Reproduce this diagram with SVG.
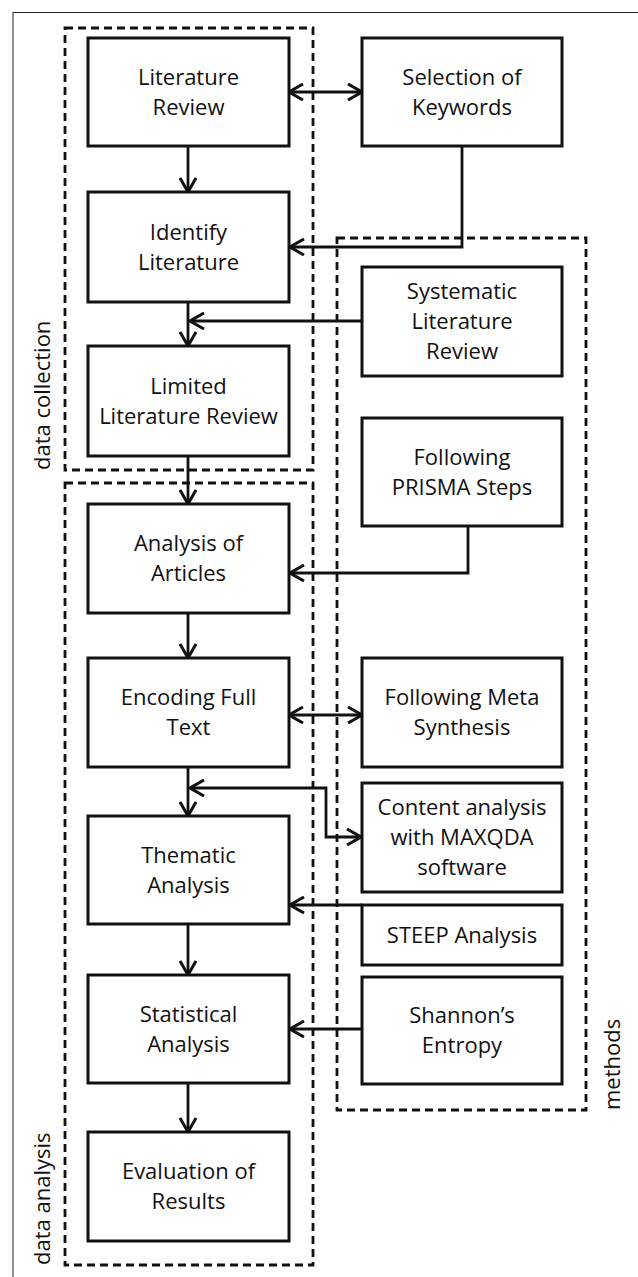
<svg xmlns="http://www.w3.org/2000/svg" width="638" height="1277" viewBox="0 0 638 1277">
<defs>
<style>
.box{fill:#fff;stroke:#111;stroke-width:3}
.grp{fill:none;stroke:#111;stroke-width:2.8;stroke-dasharray:8 5}
.t{font-family:"Open Sans","Liberation Sans",sans-serif;font-size:22px;fill:#111;text-anchor:middle}
.lbl{font-family:"Open Sans","Liberation Sans",sans-serif;font-size:22px;fill:#111;text-anchor:start}
.c{fill:none;stroke:#111;stroke-width:2.8}
</style>
<marker id="ah" viewBox="0 0 16 18" refX="15" refY="9" markerWidth="16" markerHeight="18" markerUnits="userSpaceOnUse" orient="auto-start-reverse">
<path d="M1,1 L15,9 L1,17" fill="none" stroke="#111" stroke-width="3"/>
</marker>
</defs>
<rect x="0" y="0" width="638" height="1277" fill="#fff"/>
<rect x="13" y="12.5" width="700" height="1300" fill="none" stroke="#222" stroke-width="1"/>

<g id="groups">
<rect class="grp" x="65" y="28" width="248" height="442"/>
<rect class="grp" x="65" y="483" width="248" height="782"/>
<rect class="grp" x="337" y="238" width="249" height="872"/>
<text class="lbl" transform="translate(50,470) rotate(-90)">data collection</text>
<text class="lbl" transform="translate(50,1265) rotate(-90)">data analysis</text>
<text class="lbl" transform="translate(620,1110) rotate(-90)">methods</text>
</g>

<g id="connectors">
<line class="c" x1="289" y1="92" x2="362" y2="92" marker-start="url(#ah)" marker-end="url(#ah)"/>
<line class="c" x1="188" y1="146" x2="188" y2="192" marker-end="url(#ah)"/>
<polyline class="c" points="462,146 462,247 290,247" marker-end="url(#ah)"/>
<line class="c" x1="188" y1="302" x2="188" y2="346" marker-end="url(#ah)"/>
<line class="c" x1="362" y1="321" x2="190" y2="321" marker-end="url(#ah)"/>
<line class="c" x1="188" y1="456" x2="188" y2="504" marker-end="url(#ah)"/>
<polyline class="c" points="468,526 468,573 290,573" marker-end="url(#ah)"/>
<line class="c" x1="188" y1="613" x2="188" y2="658" marker-end="url(#ah)"/>
<line class="c" x1="289" y1="715" x2="362" y2="715" marker-start="url(#ah)" marker-end="url(#ah)"/>
<line class="c" x1="188" y1="767" x2="188" y2="816" marker-end="url(#ah)"/>
<polyline class="c" points="190,788 326,788 326,837 361,837" marker-start="url(#ah)" marker-end="url(#ah)"/>
<line class="c" x1="362" y1="905" x2="290" y2="905" marker-end="url(#ah)"/>
<line class="c" x1="188" y1="924" x2="188" y2="975" marker-end="url(#ah)"/>
<line class="c" x1="362" y1="1029" x2="290" y2="1029" marker-end="url(#ah)"/>
<line class="c" x1="188" y1="1083" x2="188" y2="1132" marker-end="url(#ah)"/>
</g>

<g id="literature-review"><rect class="box" x="88" y="38" width="201" height="108"/>
<text class="t" x="188.5" y="84.5">Literature</text><text class="t" x="188.5" y="114.5">Review</text></g>

<g id="selection-keywords"><rect class="box" x="362" y="38" width="200" height="108"/>
<text class="t" x="462" y="84.5">Selection of</text><text class="t" x="462" y="114.5">Keywords</text></g>

<g id="identify-literature"><rect class="box" x="88" y="192" width="201" height="110"/>
<text class="t" x="188.5" y="239.5">Identify</text><text class="t" x="188.5" y="269.5">Literature</text></g>

<g id="systematic-review"><rect class="box" x="362" y="267" width="200" height="109"/>
<text class="t" x="462" y="299">Systematic</text><text class="t" x="462" y="329">Literature</text><text class="t" x="462" y="359">Review</text></g>

<g id="limited-review"><rect class="box" x="88" y="346" width="201" height="110"/>
<text class="t" x="188.5" y="393.5">Limited</text><text class="t" x="188.5" y="423.5">Literature Review</text></g>

<g id="prisma"><rect class="box" x="362" y="418" width="200" height="108"/>
<text class="t" x="462" y="464.5">Following</text><text class="t" x="462" y="494.5">PRISMA Steps</text></g>

<g id="analysis-articles"><rect class="box" x="88" y="504" width="201" height="109"/>
<text class="t" x="188.5" y="551">Analysis of</text><text class="t" x="188.5" y="581">Articles</text></g>

<g id="encoding"><rect class="box" x="88" y="658" width="201" height="109"/>
<text class="t" x="188.5" y="705">Encoding Full</text><text class="t" x="188.5" y="735">Text</text></g>

<g id="meta-synthesis"><rect class="box" x="362" y="658" width="200" height="109"/>
<text class="t" x="462" y="705">Following Meta</text><text class="t" x="462" y="735">Synthesis</text></g>

<g id="content-analysis"><rect class="box" x="362" y="783" width="200" height="109"/>
<text class="t" x="462" y="815">Content analysis</text><text class="t" x="462" y="845">with MAXQDA</text><text class="t" x="462" y="875">software</text></g>

<g id="thematic"><rect class="box" x="88" y="816" width="201" height="108"/>
<text class="t" x="188.5" y="862.5">Thematic</text><text class="t" x="188.5" y="892.5">Analysis</text></g>

<g id="steep"><rect class="box" x="362" y="905" width="200" height="60"/>
<text class="t" x="462" y="942.5">STEEP Analysis</text></g>

<g id="statistical"><rect class="box" x="88" y="975" width="201" height="108"/>
<text class="t" x="188.5" y="1021.5">Statistical</text><text class="t" x="188.5" y="1051.5">Analysis</text></g>

<g id="shannon"><rect class="box" x="362" y="977" width="200" height="107"/>
<text class="t" x="462" y="1023">Shannon’s</text><text class="t" x="462" y="1053">Entropy</text></g>

<g id="evaluation"><rect class="box" x="88" y="1132" width="201" height="109"/>
<text class="t" x="188.5" y="1179">Evaluation of</text><text class="t" x="188.5" y="1209">Results</text></g>
</svg>
